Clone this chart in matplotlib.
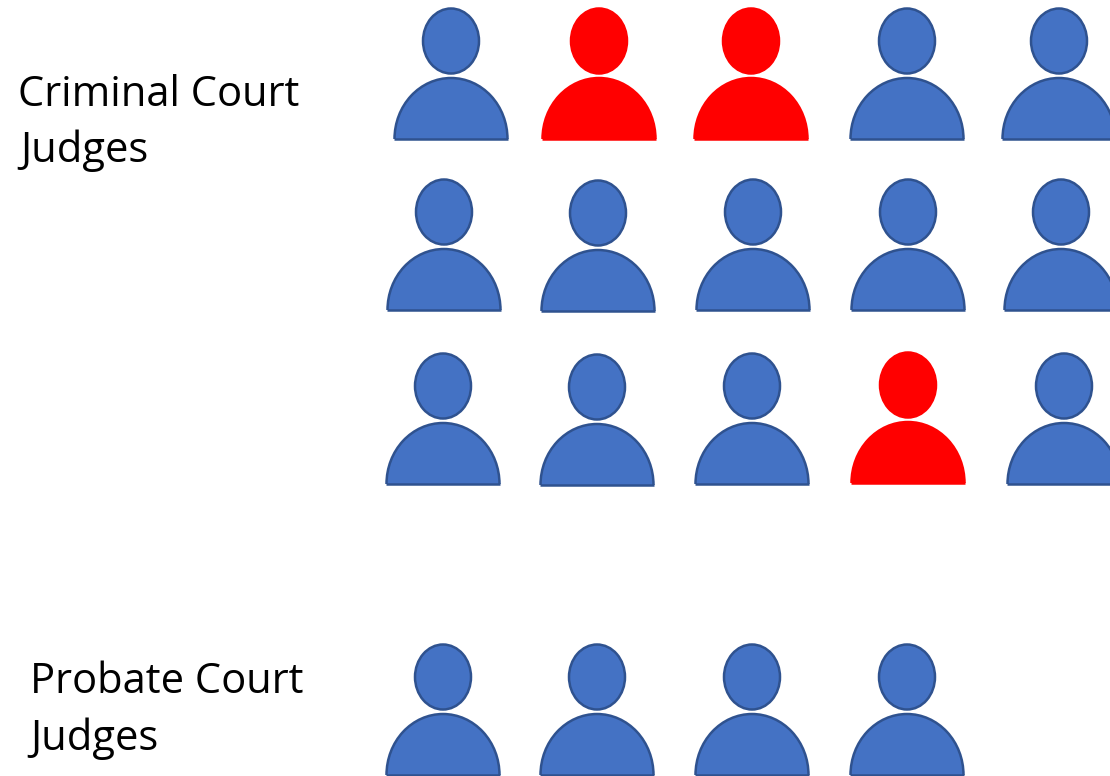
import matplotlib
matplotlib.use("Agg")
import matplotlib.pyplot as plt
from matplotlib.patches import Ellipse

BLUE = "#4472c4"
EDGE = "#2f528f"
RED = "#ff0000"

# person centres in pixels of the picture, base of the body as y
row1_x = [451, 599, 751, 907, 1059]
row1_y = [139, 139, 139, 139, 139]
row1_red = [False, True, True, False, False]
row2_x = [444, 598, 753, 908, 1061]
row2_y = [310, 311, 310, 310, 310]
row2_red = [False, False, False, False, False]
row3_x = [443, 597, 752, 908, 1064]
row3_y = [484, 485, 484, 483, 484]
row3_red = [False, False, False, True, False]
row4_x = [443, 597, 752, 907]
row4_y = [775, 775, 775, 775]
row4_red = [False, False, False, False]


def person(ax, x, base, red):
    face = RED if red else BLUE
    edge = RED if red else EDGE
    body = Ellipse((x, base), 113, 122, facecolor=face, edgecolor=edge, linewidth=1.8)
    ax.add_patch(body)
    # clip the lower half of the ellipse away
    clip = plt.Rectangle((x - 60, base - 66), 120, 66, transform=ax.transData)
    body.set_clip_path(clip)
    ax.plot([x - 57, x + 57], [base, base], color=edge, linewidth=1.8, solid_capstyle="butt")
    ax.add_patch(Ellipse((x, base - 98), 56, 65, facecolor=face, edgecolor=edge, linewidth=1.8))


fig = plt.figure(figsize=(11.10, 7.76), dpi=100)
ax = fig.add_axes([0, 0, 1, 1])
ax.set_xlim(0, 1110)
ax.set_ylim(776, 0)
ax.axis("off")

for xs, ys, reds in [(row1_x, row1_y, row1_red), (row2_x, row2_y, row2_red),
                     (row3_x, row3_y, row3_red), (row4_x, row4_y, row4_red)]:
    for x, y, r in zip(xs, ys, reds):
        person(ax, x, y, r)

font = ["Open Sans", "DejaVu Sans"]
ax.text(18, 95, "Criminal Court", fontsize=30, family=font, color="black", va="center")
ax.text(20, 151, "Judges", fontsize=30, family=font, color="black", va="center")
ax.text(30, 682, "Probate Court", fontsize=30, family=font, color="black", va="center")
ax.text(30, 739, "Judges", fontsize=30, family=font, color="black", va="center")

fig.savefig("out.png", dpi=100)
